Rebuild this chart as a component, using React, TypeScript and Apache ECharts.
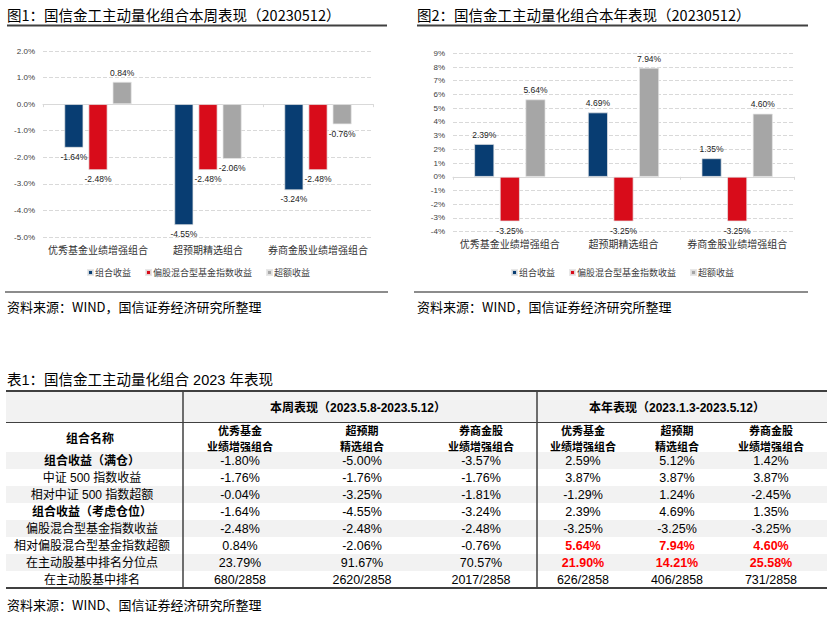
import React, { useEffect, useRef } from "react";
import * as echarts from "echarts";

// ---------- Data ----------
const categories = ["优秀基金业绩增强组合", "超预期精选组合", "券商金股业绩增强组合"];
const seriesNames = ["组合收益", "偏股混合型基金指数收益", "超额收益"];

const weekPortfolio = [-1.64, -4.55, -3.24];
const weekIndex = [-2.48, -2.48, -2.48];
const weekExcess = [0.84, -2.06, -0.76];

const yearPortfolio = [2.39, 4.69, 1.35];
const yearIndex = [-3.25, -3.25, -3.25];
const yearExcess = [5.64, 7.94, 4.6];

const weekTicks = [-5, -4, -3, -2, -1, 0, 1, 2];
const yearTicks = [-4, -3, -2, -1, 0, 1, 2, 3, 4, 5, 6, 7, 8, 9];

const title1 = "图1：国信金工主动量化组合本周表现（20230512）";
const title2 = "图2：国信金工主动量化组合本年表现（20230512）";
const chartSource = "资料来源：WIND，国信证券经济研究所整理";
const tableTitle = "表1：国信金工主动量化组合 2023 年表现";
const tableSource = "资料来源：WIND、国信证券经济研究所整理";

const tableGroupHeaders = ["本周表现（2023.5.8-2023.5.12）", "本年表现（2023.1.3-2023.5.12）"];
const tableNameHeader = "组合名称";
const tableColHeaders = [
  ["优秀基金", "业绩增强组合"],
  ["超预期", "精选组合"],
  ["券商金股", "业绩增强组合"],
  ["优秀基金", "业绩增强组合"],
  ["超预期", "精选组合"],
  ["券商金股", "业绩增强组合"],
];
const tableRowLabels = [
  "组合收益（满仓）",
  "中证 500 指数收益",
  "相对中证 500 指数超额",
  "组合收益（考虑仓位）",
  "偏股混合型基金指数收益",
  "相对偏股混合型基金指数超额",
  "在主动股基中排名分位点",
  "在主动股基中排名",
];
const tableBoldRows = [0, 3];
const tableRedRows = [5, 6];
const rowFullPos = ["-1.80%", "-5.00%", "-3.57%", "2.59%", "5.12%", "1.42%"];
const rowCsi500 = ["-1.76%", "-1.76%", "-1.76%", "3.87%", "3.87%", "3.87%"];
const rowVsCsi500 = ["-0.04%", "-3.25%", "-1.81%", "-1.29%", "1.24%", "-2.45%"];
const rowActualPos = ["-1.64%", "-4.55%", "-3.24%", "2.39%", "4.69%", "1.35%"];
const rowFundIndex = ["-2.48%", "-2.48%", "-2.48%", "-3.25%", "-3.25%", "-3.25%"];
const rowVsFundIndex = ["0.84%", "-2.06%", "-0.76%", "5.64%", "7.94%", "4.60%"];
const rowPercentile = ["23.79%", "91.67%", "70.57%", "21.90%", "14.21%", "25.58%"];
const rowRank = ["680/2858", "2620/2858", "2017/2858", "626/2858", "406/2858", "731/2858"];
const tableRows = [rowFullPos, rowCsi500, rowVsCsi500, rowActualPos, rowFundIndex, rowVsFundIndex, rowPercentile, rowRank];

// ---------- Styles ----------
const COLORS = ["#083D72", "#D80C1A", "#A6A6A6"];
const CJK = "'Noto Sans CJK SC', sans-serif";
const MIX = "'Liberation Sans', 'Noto Sans CJK SC', sans-serif";

function txt(text: string, x: number, y: number, size: number, o: any = {}) {
  const align = o.align || "left";
  const style: any = {
    text,
    x,
    y,
    fill: o.color || "#000",
    fontSize: size,
    fontFamily: o.family || CJK,
    fontWeight: o.bold ? "bold" : "normal",
    align,
    textAlign: align,
    verticalAlign: "middle",
    textVerticalAlign: "middle",
  };
  return { type: "text", silent: true, z: 10, style };
}
function hline(x1: number, x2: number, y: number, w: number, c: string) {
  return { type: "line", silent: true, z: 5, shape: { x1, y1: y, x2, y2: y }, style: { stroke: c, lineWidth: w } };
}
function vline(x: number, y1: number, y2: number, w: number, c: string) {
  return { type: "line", silent: true, z: 5, shape: { x1: x, y1, x2: x, y2 }, style: { stroke: c, lineWidth: w } };
}
function rect(x: number, y: number, width: number, height: number, c: string) {
  return { type: "rect", silent: true, z: 1, shape: { x, y, width, height }, style: { fill: c } };
}

function buildTable() {
  const els: any[] = [];
  const left = 6, right = 827;
  const top = 391, headSep = 422.5, headBottom = 452, rowH = 17;
  const bottom = headBottom + rowH * tableRows.length;
  const colCenters = [240, 362, 481, 583, 677, 771];
  const labelCenter = 92;
  els.push(rect(left, top, right - left, headSep - top, "#F2F2F2"));
  tableRows.forEach((_, i) => {
    if (i % 2 === 0) els.push(rect(left, headBottom + i * rowH, right - left, rowH, "#F2F2F2"));
  });
  els.push(hline(left, right, top, 2, "#404040"));
  els.push(hline(left, right, headSep, 1, "#404040"));
  els.push(hline(left, right, bottom, 2, "#404040"));
  els.push(vline(183, top, bottom, 1.5, "#404040"));
  els.push(vline(537, top, bottom, 1.5, "#404040"));
  els.push(txt(tableGroupHeaders[0], 358, 407.5, 12, { align: "center", bold: true, family: MIX }));
  els.push(txt(tableGroupHeaders[1], 677, 407.5, 12, { align: "center", bold: true, family: MIX }));
  els.push(txt(tableNameHeader, 90, 437.5, 12, { align: "center", bold: true }));
  tableColHeaders.forEach((lines, j) => {
    els.push(txt(lines[0], colCenters[j], 429.5, 11, { align: "center", bold: true }));
    els.push(txt(lines[1], colCenters[j], 445.5, 11, { align: "center", bold: true }));
  });
  tableRows.forEach((row, i) => {
    const y = headBottom + i * rowH + rowH / 2;
    els.push(txt(tableRowLabels[i], labelCenter, y, 12, { align: "center", bold: tableBoldRows.includes(i), family: MIX }));
    row.forEach((v, j) => {
      const red = j >= 3 && tableRedRows.includes(i);
      els.push(txt(v, colCenters[j], y, 12.5, { align: "center", family: MIX, bold: red, color: red ? "#FF0000" : "#000" }));
    });
  });
  return els;
}

function barData(vals: number[]) {
  return vals.map((v) => ({ value: v, label: { position: v >= 0 ? "top" : "bottom" } }));
}

function makeSeries(vals: number[][], xi: number, yi: number, width: number, gap: string) {
  return vals.map((v, k) => ({
    name: seriesNames[k],
    type: "bar",
    xAxisIndex: xi,
    yAxisIndex: yi,
    data: barData(v),
    barWidth: width,
    barGap: gap,
    itemStyle: { color: COLORS[k], borderColor: "rgba(230,230,230,0.9)", borderWidth: 0.8 },
    label: {
      show: true,
      fontSize: 8.5,
      color: "#222",
      fontFamily: MIX,
      distance: 5,
      formatter: (p: any) => Number(p.value).toFixed(2) + "%",
    },
  }));
}

function xAxes(gi: number) {
  return [
    {
      gridIndex: gi,
      type: "category",
      data: categories,
      position: "bottom",
      axisLine: { show: false, onZero: false },
      axisTick: { show: false },
      axisLabel: { fontSize: 10, color: "#333", margin: 7, fontFamily: CJK, interval: 0 },
      splitLine: { show: false },
    },
    {
      gridIndex: gi,
      type: "category",
      data: categories,
      position: "bottom",
      axisLine: { show: true, onZero: true, lineStyle: { color: "#D9D9D9", width: 1 } },
      axisTick: { show: true, length: 3, lineStyle: { color: "#D9D9D9" } },
      axisLabel: { show: false },
      splitLine: { show: false },
    },
  ];
}

function yAxis(gi: number, ticks: number[], digits: number) {
  return {
    gridIndex: gi,
    type: "value",
    min: ticks[0],
    max: ticks[ticks.length - 1],
    interval: ticks[1] - ticks[0],
    axisLine: { show: false },
    axisTick: { show: false },
    axisLabel: {
      fontSize: 8,
      color: "#404040",
      margin: 8,
      fontFamily: MIX,
      formatter: (v: number) => v.toFixed(digits) + "%",
    },
    splitLine: { lineStyle: { type: "dashed", color: "#D9D9D9", width: 1 } },
  };
}

function legend(left: number) {
  return {
    left,
    top: 263,
    itemWidth: 5,
    itemHeight: 5,
    itemGap: 14,
    icon: "rect",
    selectedMode: false,
    textStyle: { fontSize: 9, color: "#404040", fontFamily: CJK, padding: [0, 0, 0, -3] },
    data: seriesNames,
  };
}

export default function App() {
  const ref = useRef<HTMLDivElement>(null);
  useEffect(() => {
    if (!ref.current) return;
    const chart = echarts.init(ref.current, undefined, { renderer: "svg" });
    const graphics: any[] = [
      txt(title1, 7, 14, 14.5, {}),
      hline(7, 387, 25.5, 2, "#404040"),
      txt(title2, 417, 14, 14.5, {}),
      hline(417, 808, 25.5, 2, "#404040"),
      hline(5, 388, 292, 2, "#8C8C8C"),
      hline(414, 808, 292, 2, "#8C8C8C"),
      txt(chartSource, 7, 306, 13, {}),
      txt(chartSource, 417, 306, 13, {}),
      txt(tableTitle, 7, 380, 14.5, { family: MIX }),
      txt(tableSource, 7, 604, 13, {}),
      ...buildTable(),
    ];
    chart.setOption({
      animation: false,
      backgroundColor: "#fff",
      grid: [
        { left: 43, top: 51, width: 330, height: 186 },
        { left: 453, top: 53.3, width: 341, height: 178.4 },
      ],
      xAxis: [...xAxes(0), ...xAxes(1)],
      yAxis: [yAxis(0, weekTicks, 1), yAxis(1, yearTicks, 0)],
      legend: [legend(82), legend(506)],
      series: [
        ...makeSeries([weekPortfolio, weekIndex, weekExcess], 0, 0, 19, "27%"),
        ...makeSeries([yearPortfolio, yearIndex, yearExcess], 2, 1, 20, "28%"),
      ],
      graphic: graphics,
    });
    return () => chart.dispose();
  }, []);
  return <div ref={ref} style={{ position: "absolute", left: 0, top: 0, width: 827, height: 630 }} />;
}
